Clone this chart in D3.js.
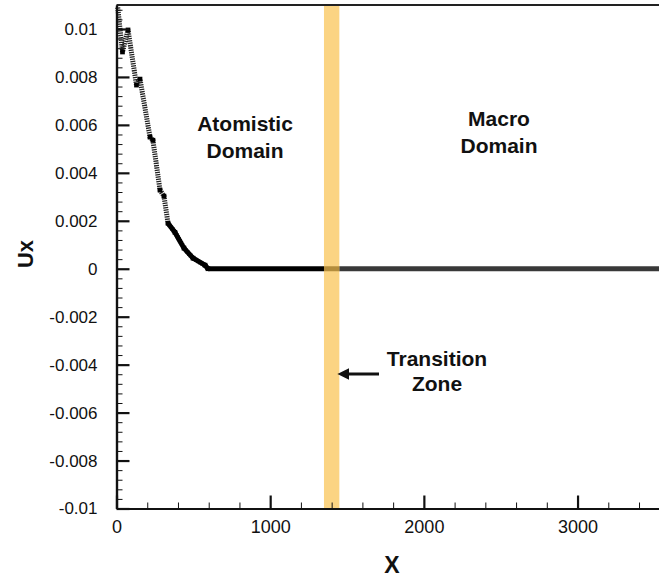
<!DOCTYPE html>
<html>
<head>
<meta charset="utf-8">
<script src="https://cdn.jsdelivr.net/npm/d3@7"></script>
<style>
  html, body { margin: 0; padding: 0; background: #fff; }
  svg { display: block; font-family: "Liberation Sans", Arial, Helvetica, sans-serif; }
</style>
</head>
<body>
<svg id="chart" width="659" height="577"></svg>
<script>
// Displacement profile Ux along X: atomistic region decays to zero, macro region stays flat.
const profileX = [8, 39, 75, 130, 153, 218, 237, 283, 309, 335, 380, 439, 498, 576, 595];
const profileUx = [0.0109, 0.00904, 0.00996, 0.00766, 0.00791, 0.00549, 0.00536, 0.00328, 0.00303, 0.0019, 0.00152, 0.00086, 0.00044, 0.00015, 0];
const denseFromX = 335;            // markers overlap into a solid band beyond this X
const flatX = [595, 1350, 1450, 3530];
const flatUx = [0, 0, 0, 0];

const transitionZone = [1350, 1450];
const yMajorTicks = [-0.01, -0.008, -0.006, -0.004, -0.002, 0, 0.002, 0.004, 0.006, 0.008, 0.01];
const yTickLabels = ["-0.01", "-0.008", "-0.006", "-0.004", "-0.002", "0", "0.002", "0.004", "0.006", "0.008", "0.01"];
const xMajorTicks = [0, 1000, 2000, 3000];
const xTickLabels = ["0", "1000", "2000", "3000"];
const xMinorStep = 200;
const yMinorStep = 0.0004;

const svg = d3.select("#chart");
const plotLeft = 116.5, plotRight = 659, plotTop = 5, plotBottom = 508.5;

const x = d3.scaleLinear().domain([0, 3530]).range([plotLeft, plotRight]);
const y = d3.scaleLinear().domain([-0.01, 0.011]).range([plotBottom, plotTop]);

// minor tick values
const xMinor = d3.range(0, 3530, xMinorStep).filter(v => v % 1000 !== 0);
const yMinor = d3.range(-0.01, 0.0109, yMinorStep)
  .map(v => +v.toFixed(4))
  .filter(v => !yMajorTicks.some(t => Math.abs(t - v) < 1e-9));

// frame top edge
svg.append("line")
  .attr("x1", plotLeft).attr("x2", plotRight).attr("y1", plotTop).attr("y2", plotTop)
  .attr("stroke", "#222").attr("stroke-width", 2);

// profile: sparse part shows individual square markers as a striped trace
const line = d3.line().x(d => x(d[0])).y(d => y(d[1]));
const profile = profileX.map((v, i) => [v, profileUx[i]]);

svg.append("path")
  .datum(profile)
  .attr("d", line)
  .attr("fill", "none")
  .attr("stroke", "#222")
  .attr("stroke-width", 5)
  .attr("stroke-dasharray", "1.3 1");

svg.append("path")
  .datum(profile.filter(d => d[0] >= denseFromX))
  .attr("d", line)
  .attr("fill", "none")
  .attr("stroke", "#000")
  .attr("stroke-width", 5)
  .attr("stroke-linejoin", "round");

// clustered markers at the step corners
svg.append("g").selectAll("path")
  .data(profile.slice(1))
  .join("path")
  .attr("transform", d => `translate(${x(d[0])},${y(d[1])})`)
  .attr("d", d3.symbol(d3.symbolSquare, 22))
  .attr("fill", "#000");

// flat zero displacement beyond the atomistic decay
const flat = flatX.map((v, i) => [v, flatUx[i]]);
svg.append("path")
  .datum(flat.filter(d => d[0] <= transitionZone[1]))
  .attr("d", line)
  .attr("fill", "none")
  .attr("stroke", "#000")
  .attr("stroke-width", 5);
svg.append("path")
  .datum(flat.filter(d => d[0] >= transitionZone[1]))
  .attr("d", line)
  .attr("fill", "none")
  .attr("stroke", "#383838")
  .attr("stroke-width", 5);

// transition zone band
svg.append("rect")
  .attr("x", x(transitionZone[0]))
  .attr("width", x(transitionZone[1]) - x(transitionZone[0]))
  .attr("y", plotTop + 1)
  .attr("height", plotBottom - plotTop - 1)
  .attr("fill", "#f9c453")
  .attr("opacity", 0.72);

// axes
const yAxis = d3.axisLeft(y)
  .tickValues(yMajorTicks)
  .tickFormat((d, i) => yTickLabels[i])
  .tickSizeInner(-13).tickSizeOuter(0).tickPadding(19);
const yAxisMinor = d3.axisLeft(y).tickValues(yMinor).tickFormat("").tickSizeInner(-6).tickSizeOuter(0);

const xAxis = d3.axisBottom(x)
  .tickValues(xMajorTicks)
  .tickFormat((d, i) => xTickLabels[i])
  .tickSizeInner(-13).tickSizeOuter(0).tickPadding(12);
const xAxisMinor = d3.axisBottom(x).tickValues(xMinor).tickFormat("").tickSizeInner(-6).tickSizeOuter(0);

function styleAxis(g, w) {
  g.select(".domain").attr("stroke", "#111").attr("stroke-width", 2.2);
  g.selectAll(".tick line").attr("stroke", "#111").attr("stroke-width", w);
  g.selectAll(".tick text").attr("fill", "#111").attr("font-size", 17);
}

svg.append("g").attr("transform", `translate(${plotLeft},0)`).call(yAxisMinor).call(g => styleAxis(g, 1));
svg.append("g").attr("transform", `translate(${plotLeft},0)`).call(yAxis).call(g => styleAxis(g, 2.2));
svg.append("g").attr("transform", `translate(0,${plotBottom})`).call(xAxisMinor).call(g => styleAxis(g, 1));
svg.append("g").attr("transform", `translate(0,${plotBottom})`).call(xAxis).call(g => { styleAxis(g, 2.2); g.selectAll(".tick text").attr("font-size", 18); });

// axis titles
svg.append("text")
  .attr("x", 392).attr("y", 573)
  .attr("text-anchor", "middle")
  .attr("font-weight", "bold").attr("font-size", 23).attr("fill", "#111")
  .text("X");
svg.append("text")
  .attr("transform", "translate(33,254) rotate(-90)")
  .attr("text-anchor", "middle")
  .attr("font-weight", "bold").attr("font-size", 22).attr("fill", "#111")
  .text("Ux");

// region annotations
function label(lines, cx, cy, gap) {
  const t = svg.append("text")
    .attr("text-anchor", "middle")
    .attr("font-weight", "bold").attr("font-size", 21).attr("fill", "#111");
  lines.forEach((s, i) => t.append("tspan").attr("x", cx).attr("y", cy + i * gap).text(s));
}
label(["Atomistic", "Domain"], 245, 131, 27);
label(["Macro", "Domain"], 499, 126, 27);
label(["Transition", "Zone"], 437, 366, 25);

// arrow pointing at the transition band
svg.append("defs").append("marker")
  .attr("id", "head").attr("viewBox", "0 0 10 10")
  .attr("refX", 2).attr("refY", 5)
  .attr("markerWidth", 4).attr("markerHeight", 4)
  .attr("orient", "auto-start-reverse")
  .append("path").attr("d", "M0,0 L10,5 L0,10 Z").attr("fill", "#111");
svg.append("line")
  .attr("x1", 379).attr("x2", 347).attr("y1", 374).attr("y2", 374)
  .attr("stroke", "#111").attr("stroke-width", 3)
  .attr("marker-end", "url(#head)");
</script>
</body>
</html>
